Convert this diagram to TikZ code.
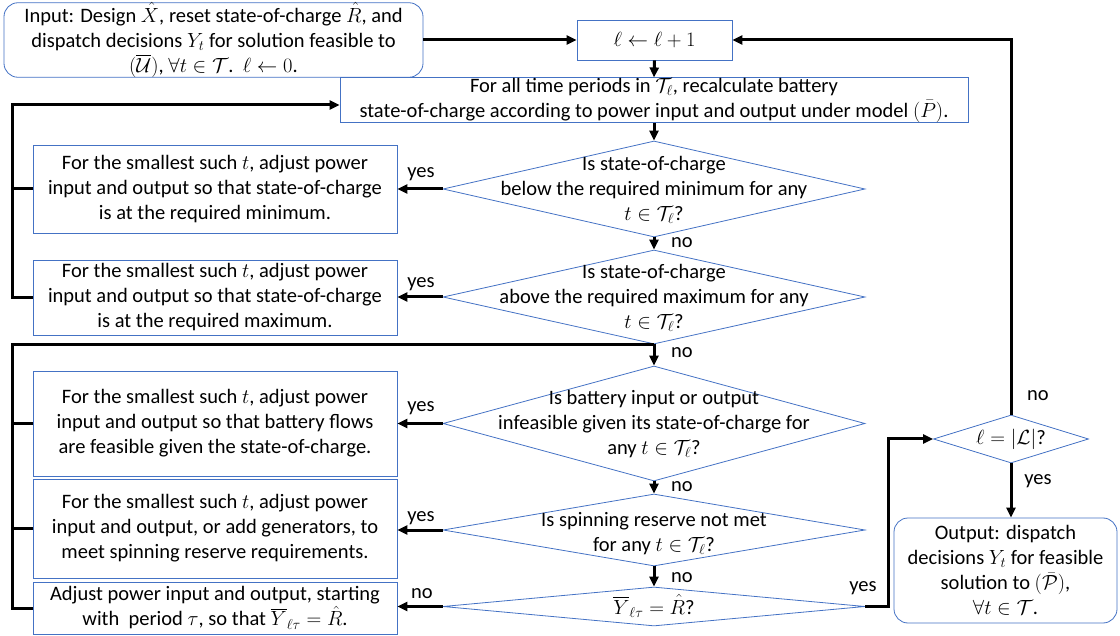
\documentclass[tikz,border=0pt]{standalone}
\usepackage{fix-cm}
\usepackage{amsmath,amssymb}
\usepackage{fontspec}
\setmainfont{Carlito}
\usetikzlibrary{arrows.meta,shapes.geometric}
\definecolor{bblue}{RGB}{68,114,196}
\begin{document}
\begin{tikzpicture}[x=1pt,y=-1pt,
  every node/.style={font=\fontsize{20.5}{25}\selectfont},
  bx/.style={draw=bblue, line width=0.8pt, inner sep=0pt, align=center},
  rbx/.style={bx, rounded corners=14pt},
  dia/.style={draw=bblue, line width=0.8pt, diamond, inner sep=0pt},
  txt/.style={align=center, inner sep=0pt},
  arr/.style={line width=3pt, -{Triangle[length=10pt,width=9pt]}},
  ln/.style={line width=3pt},
  lab/.style={inner sep=0pt}]
\useasboundingbox (0,0) rectangle (1120,636);

% boxes
\node[rbx, minimum width=419pt, minimum height=74pt] (in) at (213.5,40)
  {Input: Design $\hat{X}$, reset state-of-charge $\hat{R}$, and\\dispatch decisions $Y_t$ for solution feasible to\\$(\overline{\mathcal{U}})$, $\forall t\in\mathcal{T}$.\ \ $\ell\leftarrow 0$.};
\node[bx, minimum width=155pt, minimum height=40pt] (lb) at (654.5,40) {$\ell\leftarrow\ell+1$};
\node[bx, minimum width=628pt, minimum height=44pt] (rc) at (654,100)
  {For all time periods in $\mathcal{T}_\ell$, recalculate battery\\state-of-charge according to power input and output under model $(\bar{P})$.};

\node[bx, minimum width=364pt, minimum height=88pt] (bmin) at (215,189)
  {For the smallest such $t$, adjust power\\input and output so that state-of-charge\\is at the required minimum.};
\node[bx, minimum width=364pt, minimum height=75pt] (bmax) at (215,297.5)
  {For the smallest such $t$, adjust power\\input and output so that state-of-charge\\is at the required maximum.};
\node[bx, minimum width=364pt, minimum height=105pt] (bbat) at (215,423.5)
  {For the smallest such $t$, adjust power\\input and output so that battery flows\\are feasible given the state-of-charge.};
\node[bx, minimum width=364pt, minimum height=99pt] (bspin) at (215,528.5)
  {For the smallest such $t$, adjust power\\input and output, or add generators, to\\meet spinning reserve requirements.};
\node[bx, minimum width=364pt, minimum height=52pt] (badj) at (215,608)
  {Adjust power input and output, starting\\with\ \ period $\tau$, so that $\overline{Y}_{\ell\tau}=\hat{R}$.};

\node[rbx, minimum width=223pt, minimum height=105pt] (out) at (1005.5,570.5)
  {Output: dispatch\\decisions $Y_t$ for feasible\\solution to $(\bar{\mathcal{P}})$,\\$\forall t\in\mathcal{T}$.};

% diamonds
\node[dia, minimum width=422pt, minimum height=96pt] (d1) at (654,189) {};
\node[txt] (d1t) at (654,190) {Is state-of-charge\\below the required minimum for any\\$t\in\mathcal{T}_\ell$?};
\node[dia, minimum width=422pt, minimum height=94pt] (d2) at (654,297) {};
\node[txt] (d2t) at (654,298) {Is state-of-charge\\above the required maximum for any\\$t\in\mathcal{T}_\ell$?};
\node[dia, minimum width=422pt, minimum height=115pt] (d3) at (654,423.5) {};
\node[txt] (d3t) at (654,424) {Is battery input or output\\infeasible given its state-of-charge for\\any $t\in\mathcal{T}_\ell$?};
\node[dia, minimum width=422pt, minimum height=72pt] (d4) at (654,530) {};
\node[txt] (d4t) at (654,534) {Is spinning reserve not met\\for any $t\in\mathcal{T}_\ell$?};
\node[dia, minimum width=422pt, minimum height=39pt] (d5) at (654,606.5) {};
\node[txt] (d5t) at (654,606) {$\overline{Y}_{\ell\tau}=\hat{R}$?};
\node[dia, minimum width=155pt, minimum height=48pt] (d6) at (1011,439) {};
\node[txt] (d6t) at (1011,439) {$\ell=|\mathcal{L}|$?};

% loop coordinates
\coordinate (loopA) at (12,105);
\coordinate (loopB) at (12,345);

% connectors
\draw[arr] (in.east) -- (lb.west);
\draw[arr] (lb.south) -- (rc.north);
\draw[arr] (rc.south) -- (d1.north);
\draw[arr] (d1.west) -- (d1.west -| bmin.east);
\draw[arr] (d1.south) -- (d2.north);
\draw[arr] (d2.west) -- (d2.west -| bmax.east);
\draw[arr] (d2.south) -- (d3.north);
\draw[arr] (d3.west) -- (d3.west -| bbat.east);
\draw[arr] (d3.south) -- (d4.north);
\draw[arr] (d4.west) -- (d4.west -| bspin.east);
\draw[arr] (d4.south) -- (d5.north);
\draw[arr] (d5.west) -- (d5.west -| badj.east);
\draw[arr] (d5.east) -- ++(23,0) |- (d6.west);
\draw[arr] (d6.north) |- (lb.east);
\draw[arr] (d6.south) -- (d6.south |- out.north);

\draw[arr] (bmin.west) -| (loopA) -- (loopA -| rc.west);
\draw[ln] (bmax.west) -| (loopA);
\draw[ln] (badj.west) -| (loopB) -- (loopB -| d2.south);
\draw[ln] (bspin.west) -- (bspin.west -| loopB);
\draw[ln] (bbat.west) -- (bbat.west -| loopB);

% labels
\node[lab] (y1) at (421,174) {yes};
\node[lab] (y2) at (421,284) {yes};
\node[lab] (y3) at (421,408) {yes};
\node[lab] (y4) at (421,518) {yes};
\node[lab] (n5) at (422,594) {no};
\node[lab] (n1) at (682,243) {no};
\node[lab] (n2) at (682,353) {no};
\node[lab] (n3) at (682,487) {no};
\node[lab] (n4) at (682,578) {no};
\node[lab] (y5) at (863,588) {yes};
\node[lab] (n6) at (1038,396) {no};
\node[lab] (y6) at (1038,481) {yes};
\end{tikzpicture}
\end{document}
